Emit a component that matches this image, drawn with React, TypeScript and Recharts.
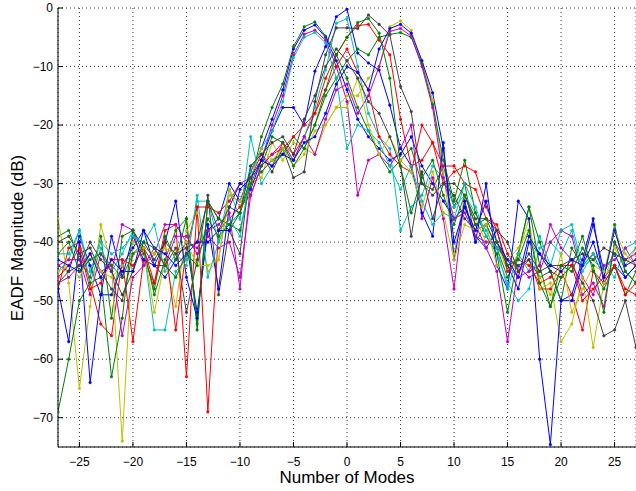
import React from 'react';
import { LineChart, Line, XAxis, YAxis, CartesianGrid } from 'recharts';

const modes = [
    -27, -26, -25, -24, -23, -22, -21, -20, -19, -18, -17, -16, -15, -14, -13, -12, -11, -10,
    -9, -8, -7, -6, -5, -4, -3, -2, -1, 0, 1, 2, 3, 4, 5, 6, 7, 8, 9,
    10, 11, 12, 13, 14, 15, 16, 17, 18, 19, 20, 21, 22, 23, 24, 25, 26, 27,
];
const xTicks = [-25, -20, -15, -10, -5, 0, 5, 10, 15, 20, 25];
const yTicks = [-70, -60, -50, -40, -30, -20, -10, 0];

// each row: modes -27..-10 | -9..9 | 10..27
const blue1 = [
    -44, -45, -39, -44, -49, -49, -44, -41, -38, -44, -46, -43, -40, -52, -38, -36, -30, -33,
    -28, -24, -19, -14, -7, -3.8, -2.9, -5, -9, -14, -19, -22, -24, -26, -25, -22, -27, -30, -33,
    -36, -34, -39, -41, -38, -44, -48, -40, -42, -45, -50, -49, -43, -36, -47, -44, -46, -44,
];
const green1 = [
    -39, -38, -43, -46, -39, -53, -39, -38, -42, -48, -39, -43, -36, -55, -33, -36, -38, -35,
    -30, -22, -17, -13, -6.6, -3.2, -2.4, -4.8, -8, -12, -17, -21, -25, -28, -26, -24, -30, -31, -27,
    -34, -30, -40, -37, -41, -46, -42, -34, -40, -45, -50, -41, -44, -42, -46, -37, -45, -47,
];
const red1 = [
    -48, -41, -40, -47, -54, -56, -43, -57, -43, -47, -38, -37, -63, -34, -34, -35, -33, -30,
    -29, -25, -27, -23, -25, -22, -18, -12, -8, -5, -3, -2.8, -5.5, -8, -19, -27, -26, -23, -27,
    -27, -30, -31, -36, -37, -42, -45, -43, -48, -48, -45, -49, -55, -45, -47, -44, -48, -49,
];
const cyan1 = [
    -45, -43, -38, -47, -41, -45, -42, -38, -41, -55, -55, -45, -43, -33, -33, -40, -31, -36,
    -22, -30, -27, -24, -26, -22, -17, -10.6, -2.6, -1.8, -10, -18, -22, -24, -38, -34, -32, -27, -29,
    -34, -32, -35, -38, -42, -47, -50, -48, -41, -40, -42, -38, -45, -42, -44, -46, -41, -40,
];
const magenta1 = [
    -44, -43, -43, -49, -42, -45, -37, -38, -44, -42, -37, -37, -40, -41, -38, -37, -35, -48,
    -30, -26, -20, -15, -8, -4.5, -3.8, -5.5, -10, -16, -32, -26, -25, -27, -24, -20, -36, -29, -36,
    -48, -32, -37, -41, -45, -57, -44, -46, -45, -40, -38, -39, -46, -49, -44, -43, -41, -44,
];
const yellow1 = [
    -36, -47, -65, -51, -37, -44, -74, -40, -41, -52, -43, -51, -38, -35, -45, -43, -31, -34,
    -30, -29, -23, -26, -23, -24, -25, -20, -17, -15, -15, -12, -10, -3.2, -2.2, -3.8, -9.2, -15.7, -28,
    -42, -32, -36, -40, -40, -45, -42, -36, -48, -47, -57, -54, -46, -58, -47, -41, -44, -41,
];
const black1 = [
    -40, -39, -42, -41, -45, -48, -50, -42, -41, -44, -44, -41, -52, -43, -32, -49, -38, -42,
    -27, -25, -28, -24, -29, -28, -16, -8, -3.4, -3.4, -3.5, -1.2, -2.8, -4.6, -13.4, -17.7, -30, -32, -30,
    -32, -36, -38, -37, -41, -43, -44, -43, -46, -45, -46, -44, -47, -50, -56, -55, -50, -58,
];
const blue2 = [
    -48, -57, -40, -64, -49, -39, -46, -39, -43, -44, -40, -33, -46, -53, -37, -48, -34, -30,
    -31, -26, -21, -17, -17, -20, -10.8, -6.6, -1.5, -0.2, -7.7, -9.4, -10.6, -16.6, -24, -27, -35, -39, -23,
    -43, -33, -40, -30, -44, -48, -33, -36, -60, -74.6, -50, -50, -44, -37, -45, -42, -46, -44,
];
const green2 = [
    -69, -60, -50, -47, -46, -63, -53, -38, -41, -49, -43, -38, -36, -54, -33, -36, -37, -38,
    -30, -28, -26, -25, -22, -24, -20, -15, -12, -9, -7, -8, -5, -4.5, -4.2, -5, -9.5, -16.5, -26,
    -33, -26, -35, -39, -42, -52, -42, -34, -44, -51, -46, -44, -39, -45, -48, -44, -49, -45,
];
const red2 = [
    -46, -44, -41, -48, -47, -43, -43, -44, -41, -47, -40, -55, -41, -34, -69, -38, -36, -34,
    -32, -27, -25, -24, -22, -20, -18, -14, -10, -7, -11, -14, -22, -25, -27, -28, -20, -23, -30,
    -28, -27, -28, -34, -38, -45, -43, -44, -47, -46, -44, -44, -50, -48, -46, -44, -49, -47,
];
const cyan2 = [
    -42, -42, -38, -45, -40, -42, -41, -39, -40, -37, -45, -42, -44, -32, -46, -40, -36, -39,
    -28, -24, -21, -16, -8.5, -5, -4.2, -6, -12, -24, -20, -21, -23, -27, -31, -27, -33, -37, -35,
    -36, -30, -34, -39, -41, -48, -42, -45, -39, -44, -38, -37, -44, -43, -45, -42, -43, -41,
];
const magenta2 = [
    -47, -46, -44, -42, -45, -44, -56, -46, -44, -41, -44, -39, -39, -42, -39, -41, -40, -46,
    -32, -27, -25, -23, -26, -22, -25, -19, -14, -13, -18, -15, -10, -4, -3.5, -4.8, -10, -17, -29,
    -36, -35, -39, -40, -40, -44, -46, -45, -44, -37, -41, -43, -49, -47, -51, -40, -43, -42,
];
const yellow2 = [
    -45, -44, -46, -42, -45, -46, -44, -42, -41, -42, -41, -42, -40, -44, -44, -43, -32, -33,
    -29, -24, -26, -24, -27, -25, -21, -20, -17, -17, -12, -20, -25, -22, -26, -28, -34, -28, -35,
    -43, -37, -38, -37, -44, -43, -41, -38, -46, -49, -42, -52, -48, -44, -45, -38, -42, -44,
];
const black2 = [
    -47, -45, -44, -40, -43, -45, -49, -45, -40, -43, -40, -42, -41, -40, -33, -38, -34, -35,
    -27, -25, -23, -22, -25, -19, -15, -10, -7, -9, -12, -16, -18, -22, -27, -39, -28, -36, -30,
    -30, -32, -36, -36, -38, -40, -45, -42, -45, -44, -44, -43, -42, -43, -41, -42, -43, -44,
];
const blue3 = [
    -43, -44, -45, -42, -46, -43, -45, -45, -38, -41, -42, -44, -42, -40, -40, -38, -38, -31,
    -29, -26, -27, -25, -26, -23, -22, -18, -13, -10, -11, -14, -7, -3.5, -2.8, -4.3, -9, -14.5, -24,
    -40, -34, -38, -33, -40, -43, -46, -39, -42, -44, -45, -43, -44, -40, -46, -38, -44, -43,
];
const green3 = [
    -42, -40, -45, -43, -42, -44, -46, -42, -40, -41, -44, -46, -42, -44, -36, -39, -37, -35,
    -29, -27, -22, -23, -27, -24, -20, -14, -8, -5, -2.5, -1.8, -4.3, -12, -27, -35, -29, -26, -32,
    -37, -32, -37, -36, -40, -44, -43, -38, -47, -51, -44, -45, -41, -44, -52, -40, -45, -47,
];

const SERIES = [
    { key: 'blue1', color: '#0000ff', values: blue1 },
    { key: 'green1', color: '#008000', values: green1 },
    { key: 'red1', color: '#ff0000', values: red1 },
    { key: 'cyan1', color: '#00bfbf', values: cyan1 },
    { key: 'magenta1', color: '#bf00bf', values: magenta1 },
    { key: 'yellow1', color: '#bfbf00', values: yellow1 },
    { key: 'black1', color: '#404040', values: black1 },
    { key: 'blue2', color: '#0000ff', values: blue2 },
    { key: 'green2', color: '#008000', values: green2 },
    { key: 'red2', color: '#ff0000', values: red2 },
    { key: 'cyan2', color: '#00bfbf', values: cyan2 },
    { key: 'magenta2', color: '#bf00bf', values: magenta2 },
    { key: 'yellow2', color: '#bfbf00', values: yellow2 },
    { key: 'black2', color: '#404040', values: black2 },
    { key: 'blue3', color: '#0000ff', values: blue3 },
    { key: 'green3', color: '#008000', values: green3 },
];

const data = modes.map((m, i) => {
    const row: Record<string, number> = { mode: m };
    SERIES.forEach((s) => {
        row[s.key] = s.values[i];
    });
    return row;
});

const fmt = (v: number) => (v < 0 ? `\u2212${Math.abs(v)}` : `${v}`);

const App: React.FC = () => {
    return (
        <div style={{ position: 'absolute', left: 0, top: 0, fontFamily: '"Liberation Sans", Arial, sans-serif' }}>
            <LineChart width={636} height={491} data={data} margin={{ top: 8, right: 0, bottom: 0, left: 0 }}>
                <CartesianGrid stroke="#333" strokeDasharray="1 3" />
                <XAxis
                    dataKey="mode"
                    type="number"
                    domain={[-27, 27]}
                    ticks={xTicks}
                    allowDataOverflow
                    height={44}
                    tickSize={-5}
                    tickMargin={15}
                    tickFormatter={fmt}
                    tick={{ fontSize: 12, fill: '#000' }}
                    stroke="#000"
                    label={{ value: 'Number of Modes', position: 'insideBottom', offset: 8, fontSize: 17, fill: '#000' }}
                />
                <XAxis
                    xAxisId="top"
                    orientation="top"
                    type="number"
                    domain={[-27, 27]}
                    ticks={xTicks}
                    height={0}
                    tick={false}
                    stroke="#000"
                />
                <YAxis
                    type="number"
                    domain={[-75, 0]}
                    ticks={yTicks}
                    allowDataOverflow
                    width={58}
                    tickSize={-5}
                    tickMargin={10}
                    tickFormatter={fmt}
                    tick={{ fontSize: 12, fill: '#000' }}
                    stroke="#000"
                    label={{
                        value: 'EADF Magnitude (dB)',
                        content: () => (
                            <text x={23} y={238} transform="rotate(-90 23 238)" textAnchor="middle" fontSize={17} fill="#000">
                                EADF Magnitude (dB)
                            </text>
                        ),
                    }}
                />
                {SERIES.map((s) => (
                    <Line
                        key={s.key}
                        dataKey={s.key}
                        type="linear"
                        stroke={s.color}
                        strokeWidth={1}
                        dot={{ r: 1.3, fill: s.color, stroke: s.color, strokeWidth: 0.5 }}
                        isAnimationActive={false}
                    />
                ))}
            </LineChart>
        </div>
    );
};

export default App;
